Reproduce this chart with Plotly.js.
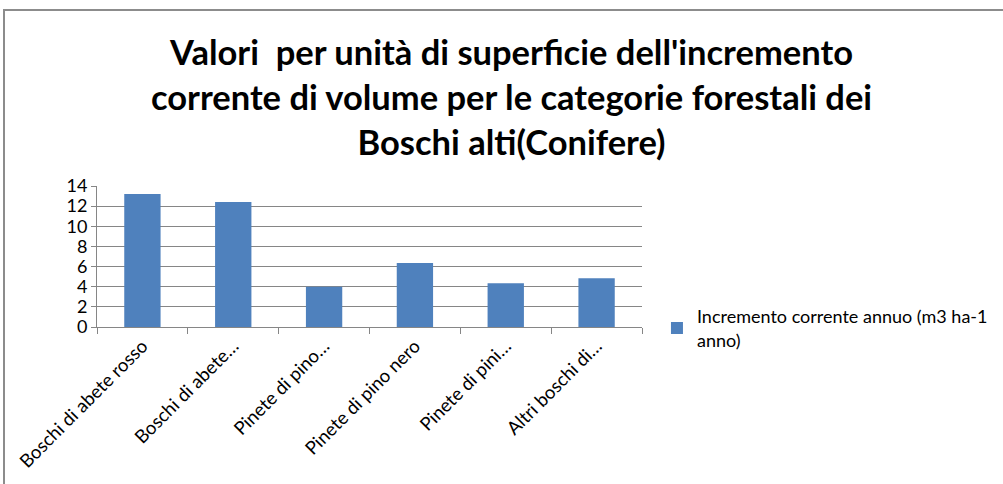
<!DOCTYPE html>
<html>
<head>
<meta charset="utf-8">
<script src="https://cdn.plot.ly/plotly-3.0.1.min.js"></script>
<style>
html,body{margin:0;padding:0;background:#fff;overflow:hidden;}
#wrap{position:relative;width:1003px;height:484px;}
#chart{position:absolute;left:0;top:0;width:1003px;height:484px;}
#frame{position:absolute;left:3px;top:9px;width:1100px;height:600px;border:2px solid #8c8c8c;pointer-events:none;box-sizing:border-box;}
</style>
</head>
<body>
<div id="wrap"><div id="chart"></div><div id="frame"></div></div>
<script>
const categories = ["Boschi di abete rosso","Boschi di abete…","Pinete di pino…","Pinete di pino nero","Pinete di pini…","Altri boschi di…"];
const values = [13.2, 12.4, 4.0, 6.35, 4.35, 4.85];
const seriesName = "Incremento corrente annuo (m3 ha-1<br>anno)";
const yTicks = [0, 2, 4, 6, 8, 10, 12, 14];
const titleText = "Valori  per unità di superficie dell'incremento<br>corrente di volume per le categorie forestali dei<br>Boschi alti(Conifere)";

const font = "Lato, 'Open Sans', sans-serif";
Plotly.newPlot('chart', [{
  type: 'bar',
  x: categories,
  y: values,
  name: seriesName,
  marker: {color: '#4f81bd', line: {color: '#4f81bd', width: 0}},
  width: 0.4,
  showlegend: true
}], {
  width: 1003, height: 484,
  paper_bgcolor: '#fff', plot_bgcolor: '#fff',
  margin: {l: 97, r: 361, t: 186, b: 157},
  font: {family: font, color: '#000'},
  title: {text: titleText, font: {family: font, size: 34.5, color: '#000', weight: 'bold'},
          xref: 'container', yref: 'container', x: 0.51, xanchor: 'center', y: 0.866, yanchor: 'middle'},
  xaxis: {type: 'category', tickangle: -45, tickfont: {size: 18.5, family: font, color: '#000'},
          showline: true, linecolor: '#868686', linewidth: 1, ticks: 'outside', ticklen: 6,
          tickcolor: '#868686', tickson: 'boundaries', showgrid: false, automargin: false},
  yaxis: {range: [0, 14], tickvals: yTicks, ticktext: yTicks.map(String),
          tickfont: {size: 18, family: font, color: '#000'},
          showline: true, linecolor: '#868686', linewidth: 1, ticks: 'outside', ticklen: 5,
          tickcolor: '#868686', showgrid: true, gridcolor: '#868686', gridwidth: 1,
          zeroline: false, automargin: false},
  legend: {x: 0.655, xref: 'container', y: 0.322, yref: 'container', xanchor: 'left', yanchor: 'middle',
           font: {size: 18, family: font, color: '#000'}, bgcolor: 'rgba(0,0,0,0)', itemwidth: 30},
  bargap: 0.6
}, {displayModeBar: false, staticPlot: true});
</script>
</body>
</html>
